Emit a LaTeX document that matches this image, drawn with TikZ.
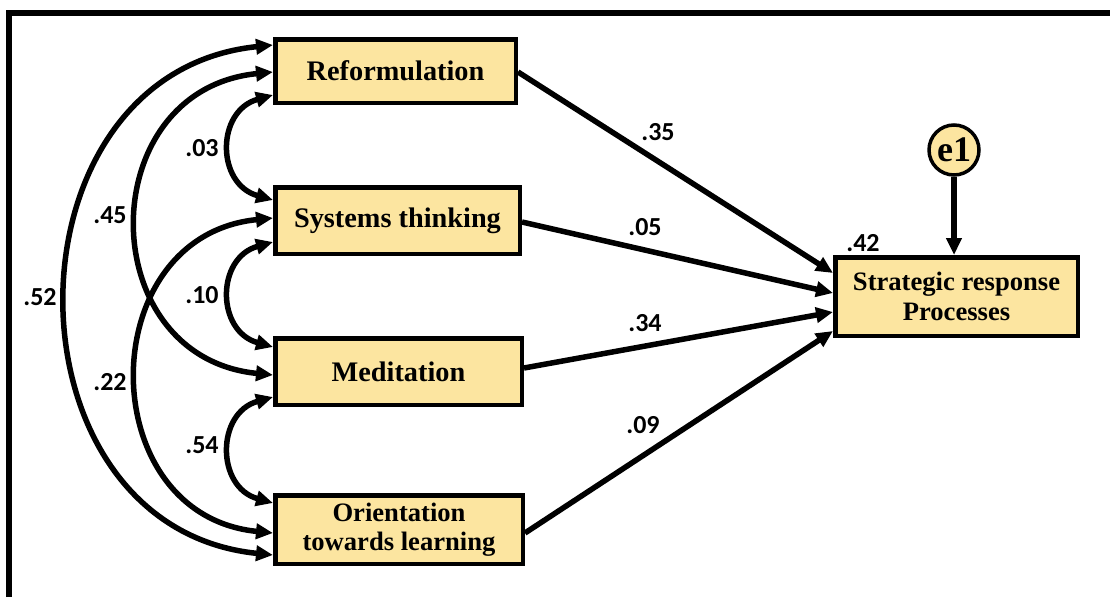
\documentclass[tikz,border=0pt]{standalone}
\usepackage{fontspec}
\setmainfont{Liberation Serif}
\newfontfamily\labfont{Carlito}
\usetikzlibrary{arrows.meta}
\definecolor{boxfill}{RGB}{252,229,160}
\begin{document}
\begin{tikzpicture}[x=1pt,y=-1pt,
  var/.style={draw=black, line width=4.5pt, fill=boxfill, align=center, inner sep=0pt,
    font=\bfseries\fontsize{28.3}{30}\selectfont},
  var2/.style={var, font=\bfseries\fontsize{26.6}{29.5}\selectfont},
  tip/.tip={Triangle[length=17pt,width=15pt]},
  reg/.style={line width=5.5pt, -tip},
  cov/.style={line width=5.5pt, tip-tip},
  lab/.style={font=\labfont\bfseries\fontsize{26}{28}\selectfont, inner sep=0pt},
]
\useasboundingbox (0,0) rectangle (1110,597);
% frame
\draw[line width=5.5pt, line join=miter] (9,597) -- (9,13) -- (1110,13);

% variables
\node[var, minimum width=240.5pt, minimum height=63.5pt] (R) at (395.5,71) {Reformulation};
\node[var, minimum width=244.5pt, minimum height=66.5pt] (S) at (397.5,220.5) {Systems thinking};
\node[var, minimum width=246.5pt, minimum height=66.5pt] (M) at (398.5,371.5) {Meditation};
\node[var2, minimum width=247.5pt, minimum height=68.5pt] (O) at (399,529.5) {Orientation\\towards learning};
\node[var2, minimum width=242.5pt, minimum height=78.5pt] (SRP) at (956.5,296.5) {Strategic response\\Processes};
\node[draw=black, line width=3.5pt, fill=boxfill, circle, minimum size=50pt, inner sep=0pt,
  font=\bfseries\fontsize{36}{38}\selectfont] (e1) at (954,150) {e1};

% regression paths
\draw[reg] ([yshift=-1pt]R.east) -- ([yshift=23.5pt]SRP.west);
\draw[reg] ([yshift=-1.5pt]S.east) -- ([yshift=3.5pt]SRP.west);
\draw[reg] ([yshift=3.5pt]M.east) -- ([yshift=-15.5pt]SRP.west);
\draw[reg] ([yshift=-3.5pt]O.east) -- ([yshift=-34.5pt]SRP.west);
\draw[reg] (e1.south) -- (e1.south |- SRP.north);

% covariances
\draw[cov] ([yshift=26pt]R.west) .. controls +(-275,28) and +(-275,-28) .. ([yshift=-25.5pt]O.west);
\draw[cov] ([yshift=-1pt]R.west) .. controls +(-181,18) and +(-181,-18) .. ([yshift=-3.5pt]M.west);
\draw[cov] ([yshift=2.5pt]S.west) .. controls +(-181,18) and +(-181,-18) .. ([yshift=-3.5pt]O.west);
\draw[cov] ([yshift=-24pt]R.west) .. controls +(-57,16) and +(-57,-16) .. ([yshift=20.5pt]S.west);
\draw[cov] ([yshift=-21.5pt]S.west) .. controls +(-57,16) and +(-57,-16) .. ([yshift=24.5pt]M.west);
\draw[cov] ([yshift=-25.5pt]M.west) .. controls +(-57,16) and +(-57,-16) .. ([yshift=26.5pt]O.west);

% labels
\node[lab] (l52) at (40,297) {.52};
\node[lab] (l45) at (110,215) {.45};
\node[lab] (l22) at (110,382) {.22};
\node[lab] (l03) at (202,148) {.03};
\node[lab] (l10) at (202,295) {.10};
\node[lab] (l54) at (202,445) {.54};
\node[lab] (l35) at (658,132) {.35};
\node[lab] (l05) at (645,227) {.05};
\node[lab] (l34) at (645,323) {.34};
\node[lab] (l09) at (643,425) {.09};
\node[lab] (l42) at (863,243) {.42};
\end{tikzpicture}
\end{document}
